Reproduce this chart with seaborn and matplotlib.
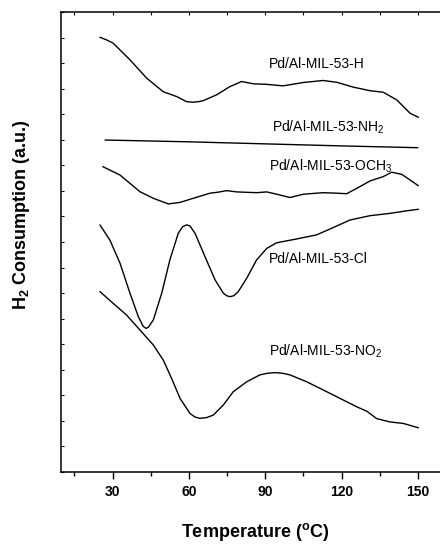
import matplotlib
matplotlib.use("Agg")
import matplotlib.pyplot as plt
import seaborn as sns
import pandas as pd
from matplotlib.ticker import MultipleLocator

# ---- data (temperature in °C, H2 consumption in a.u., curves offset) ----
h_T = [25.0, 27.6, 30.2, 36.8, 43.4, 49.9, 55.2, 59.1, 61.7, 63.7, 65.6, 70.9, 76.1, 80.7, 85.3,
       90.5, 97.0, 104.9, 112.8, 118.1, 124.6, 131.2, 136.4, 141.7, 146.9, 150.2]
h_y = [17.01, 16.91, 16.78, 16.13, 15.41, 14.88, 14.69, 14.49, 14.47, 14.49, 14.53, 14.76, 15.08, 15.28, 15.19,
       15.17, 15.11, 15.24, 15.32, 15.25, 15.06, 14.92, 14.86, 14.56, 14.04, 13.88]

nh2_T = [27.0, 60.0, 90.0, 120.0, 150.0]
nh2_y = [12.99, 12.92, 12.84, 12.76, 12.69]

och3_T = [26.1, 32.9, 40.7, 46.0, 51.9, 56.5, 63.0, 68.3, 71.5, 74.8, 78.8, 86.6, 90.6,
          94.5, 99.7, 105.0, 112.8, 118.1, 122.0, 126.0, 131.2, 136.4, 139.7, 143.6, 146.9, 150.2]
och3_y = [11.95, 11.62, 10.97, 10.71, 10.49, 10.55, 10.75, 10.91, 10.95, 11.01, 10.96, 10.93, 10.96,
          10.87, 10.74, 10.87, 10.93, 10.91, 10.89, 11.10, 11.39, 11.56, 11.73, 11.65, 11.43, 11.20]

cl_T = [25.0, 28.9, 32.9, 36.8, 40.1, 42.0, 43.1, 44.0, 46.0, 49.3, 52.5, 55.8, 57.5, 59.1, 60.4,
        62.4, 66.3, 70.3, 73.5, 74.8, 76.1, 77.7, 79.4, 82.7, 86.6, 90.6, 94.5, 102.4, 110.2,
        115.5, 123.3, 131.2, 139.0, 145.6, 150.2]
cl_y = [9.67, 9.08, 8.17, 7.00, 6.08, 5.70, 5.62, 5.66, 5.95, 7.00, 8.30, 9.34, 9.60, 9.67, 9.63,
        9.34, 8.43, 7.51, 7.00, 6.90, 6.86, 6.90, 7.06, 7.58, 8.30, 8.75, 8.97, 9.12, 9.28,
        9.51, 9.86, 10.03, 10.12, 10.22, 10.28]

no2_T = [25.0, 30.2, 35.5, 40.7, 46.0, 49.9, 53.2, 56.5, 60.4, 62.4, 64.3, 67.0, 69.6, 73.5, 77.4, 82.7,
         87.9, 90.6, 93.8, 97.1, 99.7, 106.3, 112.8, 119.4, 126.0, 129.9, 133.8, 139.0, 144.3, 150.2]
no2_y = [7.06, 6.60, 6.14, 5.56, 4.97, 4.38, 3.66, 2.88, 2.29, 2.15, 2.10, 2.13, 2.23, 2.62, 3.14, 3.53,
         3.80, 3.86, 3.89, 3.86, 3.80, 3.53, 3.21, 2.88, 2.55, 2.38, 2.09, 1.96, 1.90, 1.73]

labels = ["Pd/Al-MIL-53-H", "Pd/Al-MIL-53-NH$_\\mathregular{2}$", "Pd/Al-MIL-53-OCH$_\\mathregular{3}$",
          "Pd/Al-MIL-53-Cl", "Pd/Al-MIL-53-NO$_\\mathregular{2}$"]
label_T = [91.6, 92.5, 91.6, 91.6, 91.6]
label_y = [15.80, 13.32, 11.79, 8.17, 4.55]

x_ticks = [30, 60, 90, 120, 150]

# ---- long table ----
curves = [("H", h_T, h_y), ("NH2", nh2_T, nh2_y), ("OCH3", och3_T, och3_y),
          ("Cl", cl_T, cl_y), ("NO2", no2_T, no2_y)]
rows = []
for name, T, y in curves:
    for t, v in zip(T, y):
        rows.append({"curve": name, "T": t, "y": v})
df = pd.DataFrame(rows)

sns.set_style("ticks")
plt.rcParams["font.family"] = ["Liberation Sans", "DejaVu Sans"]
plt.rcParams["mathtext.fontset"] = "custom"
plt.rcParams["mathtext.rm"] = "Liberation Sans"
plt.rcParams["mathtext.bf"] = "Liberation Sans:bold"
plt.rcParams["mathtext.it"] = "Liberation Sans:italic"
for key in ["text.color", "axes.labelcolor", "xtick.color", "ytick.color", "axes.edgecolor"]:
    plt.rcParams[key] = "black"

fig = plt.figure(figsize=(4.4, 5.45), dpi=100)
ax = fig.add_axes([61 / 440, 73 / 545, 379 / 440, 460 / 545])

sns.lineplot(data=df, x="T", y="y", units="curve", estimator=None, sort=False,
             color="black", linewidth=1.0, ax=ax, legend=False)

ax.set_xlim(9.7, 158.7)
ax.set_ylim(0, 18)

for side in ["left", "bottom", "top"]:
    ax.spines[side].set_linewidth(1.1)
    ax.spines[side].set_color("black")
ax.spines["right"].set_visible(False)

ax.set_xticks(x_ticks)
ax.set_xticklabels([str(v) for v in x_ticks], fontsize=10, fontweight="bold", color="black")
ax.xaxis.set_minor_locator(MultipleLocator(15))
ax.tick_params(axis="x", which="major", direction="out", length=5, width=1.0, pad=4, color="black")
ax.tick_params(axis="x", which="minor", direction="out", length=3, width=1.0, color="black")

ax.yaxis.set_major_locator(MultipleLocator(1))
ax.tick_params(axis="y", which="major", direction="in", length=2, width=0.8,
               labelleft=False, color="black")

top = ax.twiny()
top.set_xlim(ax.get_xlim())
top.xaxis.set_major_locator(MultipleLocator(15))
top.tick_params(axis="x", direction="in", length=2, width=0.8, labeltop=False, color="black")
for s in top.spines.values():
    s.set_visible(False)

ax.set_xlabel("")
ax.set_ylabel("")

for txt, tx, ty in zip(labels, label_T, label_y):
    ax.text(tx, ty, txt, fontsize=10, ha="left", va="baseline", color="black")

fig.text(255.5 / 440, 1 - 532 / 545, "Temperature ($^\\mathbf{o}$C)", fontsize=13,
         fontweight="bold", ha="center", va="center", color="black")
fig.text(21 / 440, 1 - 215 / 545, "H$_\\mathbf{2}$ Consumption (a.u.)", fontsize=13,
         fontweight="bold", rotation=90, ha="center", va="center", color="black")

fig.savefig("out.png", dpi=100)
